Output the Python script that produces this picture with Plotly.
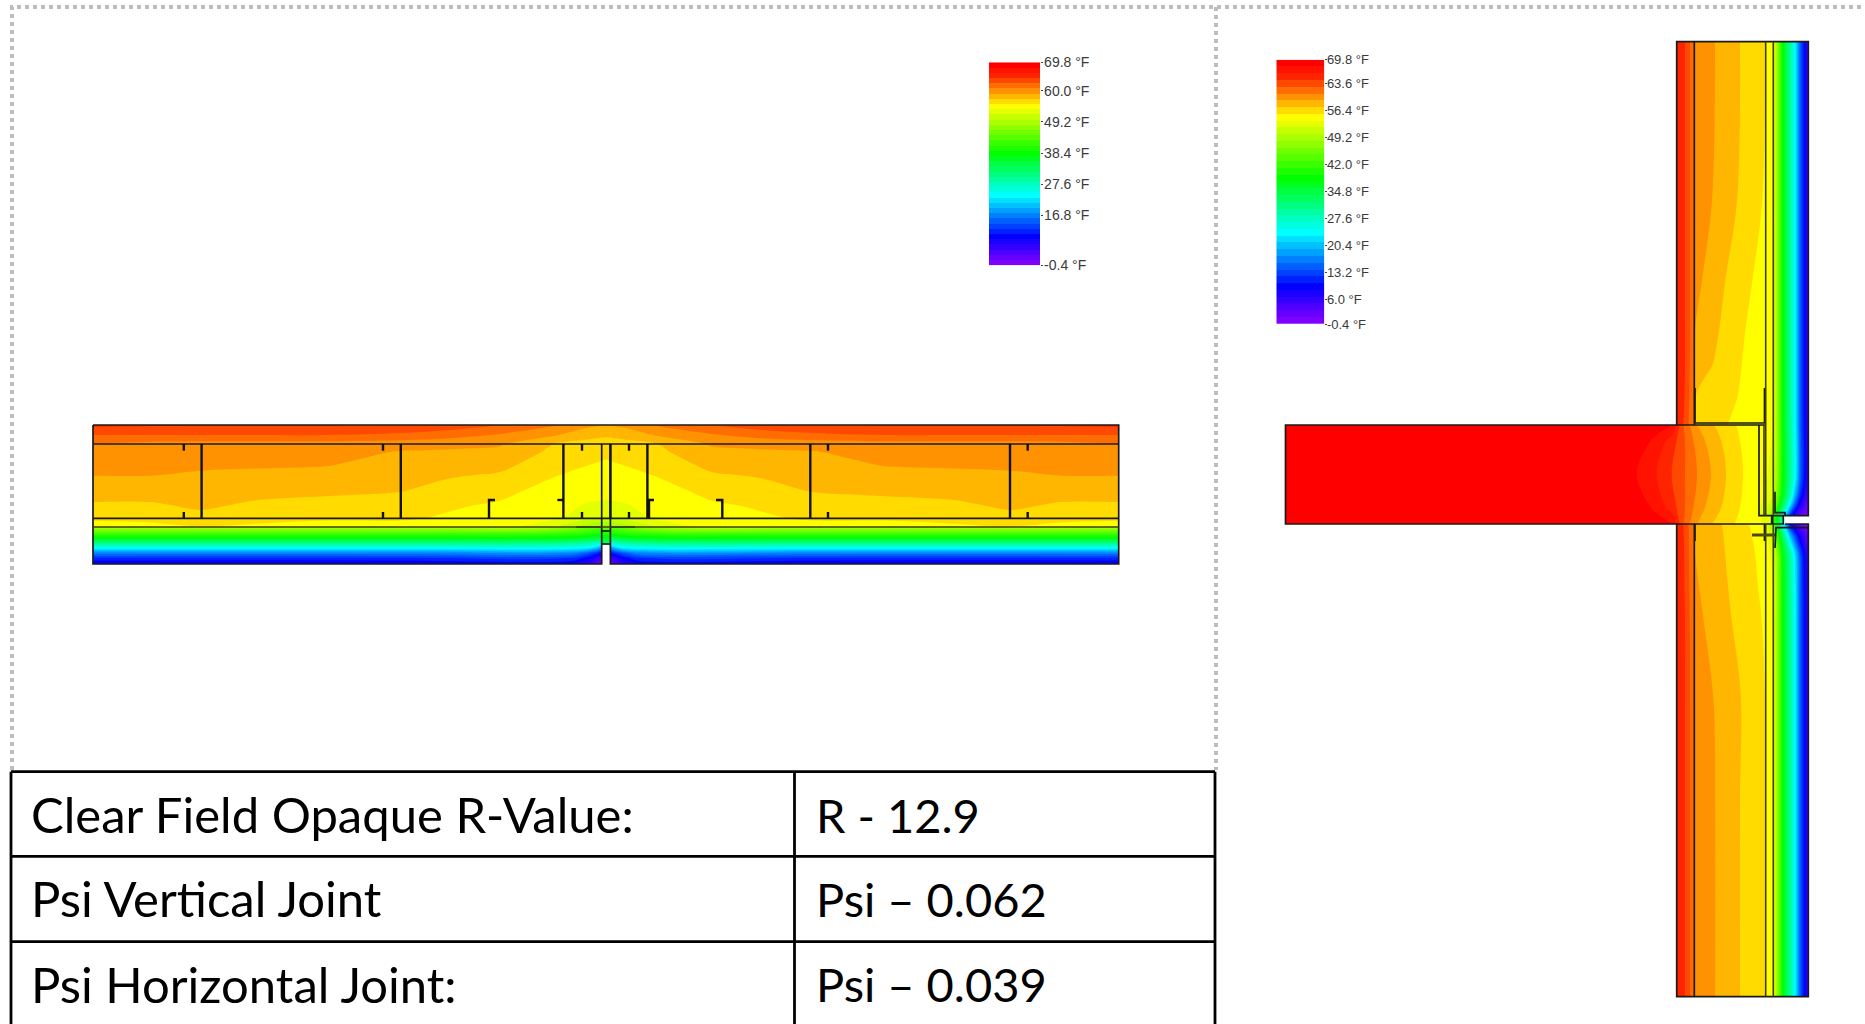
import plotly.graph_objects as go

W, H = 1865, 1024
T_MIN, T_MAX, T_STEP = -0.4, 69.8, 1.8

# Isotherm band colours, coldest to warmest
BAND_COLORS = ["#8000FF", "#6600FF", "#4D00FF", "#3300FF", "#1A00FF",
               "#0000FF", "#0020FF", "#0040FF", "#0060FF", "#0080FF", "#00A0FF", "#00C0FF", "#00E0FF",
               "#00FFFF", "#00FFE0", "#00FFC0", "#00FFA0", "#00FF80", "#00FF60", "#00FF40", "#00FF20",
               "#00FF00", "#1CFF00", "#39FF00", "#55FF00", "#71FF00", "#8EFF00", "#AAFF00", "#C6FF00", "#E3FF00",
               "#FFFF00", "#FFDB00", "#FFB600", "#FF9200", "#FF6D00", "#FF4900", "#FF2400", "#FF1200", "#FF0000"]

LEGEND_A_TICKS = [69.8, 60.0, 49.2, 38.4, 27.6, 16.8, -0.4]
LEGEND_B_TICKS = [69.8, 63.6, 56.4, 49.2, 42.0, 34.8, 27.6, 20.4, 13.2, 6.0, -0.4]

# ---------- horizontal section (left), temperature read at grid nodes ----------
H_TOP_X = [93, 150, 201, 258, 330, 400, 450, 500, 554, 585, 605]
H_TOP_Y = [425, 435, 444, 452, 462, 475, 490, 505, 518, 527]
H_TOP_Z = [
    [64.8, 64.6, 64.5, 64.5, 64.5, 64.2, 63.6, 62.6, 61.0, 59.5, 59.0],
    [62.6, 62.6, 62.6, 62.6, 62.6, 62.2, 61.6, 60.6, 59.2, 58.0, 57.6],
    [60.7, 60.2, 60.0, 60.0, 60.0, 59.8, 59.4, 59.2, 57.2, 56.5, 56.0],
    [60.1, 60.0, 59.8, 59.7, 59.6, 58.9, 58.8, 58.5, 56.8, 56.0, 55.7],
    [59.6, 59.6, 59.4, 59.3, 59.2, 58.4, 58.2, 57.9, 56.2, 55.6, 55.3],
    [59.05, 59.05, 58.8, 58.7, 58.5, 57.9, 57.4, 57.0, 55.5, 55.0, 54.8],
    [58.0, 58.0, 58.1, 57.8, 57.6, 57.35, 56.5, 55.9, 54.8, 54.5, 54.2],
    [57.0, 57.0, 57.5, 56.9, 56.6, 56.2, 55.6, 55.2, 54.4, 53.5, 53.3],
    [55.8, 56.0, 56.7, 55.9, 55.6, 55.6, 55.2, 54.8, 54.0, 52.5, 52.2],
    [54.5, 54.8, 55.3, 55.1, 54.9, 54.9, 54.8, 54.4, 52.0, 49.0, 47.0],
]
H_LOW_X = [93, 400, 540, 575, 590, 601.7]
H_LOW_Y = [527, 533, 538, 543, 548, 553, 558, 564]
H_LOW_Z = [
    [50.0, 50.0, 50.0, 47.0, 45.0, 44.0],
    [43.0, 43.0, 43.0, 42.0, 41.0, 40.0],
    [38.0, 38.0, 38.0, 37.5, 36.0, 34.0],
    [31.0, 31.0, 31.0, 30.0, 29.0, 26.0],
    [24.0, 24.0, 24.5, 24.0, 23.0, 18.0],
    [17.0, 17.0, 18.0, 17.0, 14.0, 10.0],
    [12.0, 12.0, 13.0, 12.0, 9.0, 5.0],
    [8.0, 8.0, 9.0, 8.0, 6.0, 1.0],
]
H_JOINT_X = [601.7, 610.4]
H_JOINT_Y = [527, 531, 537, 544]
H_JOINT_Z = [[46, 46], [42, 42], [38, 38], [31, 31]]
H_MIRROR = 1211.6

# ---------- vertical section (right) ----------
V_X = [1677, 1685, 1690, 1694, 1695, 1715, 1740, 1765, 1773, 1776, 1783, 1790, 1795, 1800, 1805, 1808.3]
V_TOP_Y = [42, 200, 280, 330, 363, 397, 425]
V_TOP_Z = [
    [66.4, 64.4, 62.6, 60.9, 60.8, 59.0, 57.2, 55.4, 53.6, 50, 38, 30, 24, 15, 9, 6],
    [66.4, 64.4, 62.6, 60.9, 60.7, 58.7, 57.0, 55.2, 53.6, 50, 38, 30, 24, 15, 9, 6],
    [66.4, 64.4, 62.6, 60.9, 59.6, 57.9, 56.2, 54.6, 53.6, 50, 38, 30, 24, 15, 9, 6],
    [66.4, 64.4, 62.6, 60.9, 59.0, 57.5, 55.7, 54.3, 53.6, 50, 38, 30, 24, 15, 9, 6],
    [66.4, 64.4, 62.5, 60.8, 58.2, 57.1, 55.5, 54.2, 53.6, 50, 38, 30, 24, 15, 9, 6],
    [66.2, 64.3, 62.3, 60.6, 57.2, 56.3, 55.3, 54.1, 53.6, 50, 38, 30, 24, 15, 9, 6],
    [65.8, 64.0, 62.0, 60.4, 56.5, 55.9, 54.9, 54.0, 53.6, 50, 38, 30, 24, 15, 9, 6],
]
V_BOT_Y = [524, 535, 553, 590, 620, 700, 800, 997]
V_BOT_Z = [
    [65.8, 64.0, 62.0, 60.4, 58.8, 57.7, 55.9, 54.5, 46, 40, 24, 10, 6, 3, 1, 0],
    [65.9, 64.1, 62.1, 60.4, 58.9, 57.75, 56.1, 54.6, 50, 44, 32, 20, 13, 8, 4, 3],
    [66.0, 64.2, 62.2, 60.5, 59.0, 57.8, 56.3, 54.8, 53, 49, 37, 29, 22, 14, 8, 5.5],
    [66.2, 64.3, 62.4, 60.6, 59.3, 58.0, 56.5, 55.0, 53.6, 50, 38, 30, 24, 15, 9, 6],
    [66.3, 64.4, 62.5, 60.7, 59.6, 58.2, 56.7, 55.2, 53.6, 50, 38, 30, 24, 15, 9, 6],
    [66.4, 64.4, 62.6, 60.9, 60.2, 58.9, 57.3, 55.4, 53.6, 50, 38, 30, 24, 15, 9, 6],
    [66.4, 64.4, 62.6, 60.9, 60.4, 59.0, 57.2, 55.4, 53.6, 50, 38, 30, 24, 15, 9, 6],
    [66.4, 64.4, 62.6, 60.9, 60.6, 59.0, 57.2, 55.4, 53.6, 50, 38, 30, 24, 15, 9, 6],
]
V_OUT_X = [1759, 1765, 1773, 1776, 1783, 1790, 1795, 1800, 1805, 1808.3]
V_OUT_Y = [425, 480, 495, 505, 516]
V_OUT_Z = [
    [54.0, 54.0, 53.6, 50, 38, 30, 24, 15, 9, 6],
    [54.0, 53.8, 53.0, 49, 38, 30, 24, 15, 9, 6],
    [54.0, 53.6, 52.0, 47, 37, 28, 20, 12, 7, 4.5],
    [53.8, 53.0, 50.0, 44, 33, 23, 14, 8, 4, 2.5],
    [53.5, 52.0, 46.0, 38, 25, 12, 6, 3, 1, 0],
]
V_SLAB_X = [1285.5, 1636.7, 1656.7, 1671.7, 1685, 1697, 1711, 1726, 1743, 1759]
V_SLAB_Y = [425, 440, 474, 508, 524]
V_SLAB_Z = [
    [69.8, 69.5, 69.0, 68.1, 62.0, 59.0, 57.5, 56.0, 55.0, 54.0],
    [69.8, 69.3, 67.5, 65.5, 62.6, 60.0, 58.2, 56.7, 55.1, 54.0],
    [69.8, 68.0, 66.2, 64.4, 62.6, 60.8, 59.0, 57.2, 55.4, 54.0],
    [69.8, 69.3, 67.5, 65.5, 62.6, 60.0, 58.2, 56.7, 55.1, 54.0],
    [69.8, 69.5, 69.0, 68.1, 62.0, 59.0, 57.3, 55.8, 55.0, 54.0],
]
V_JOINT_X = [1759, 1771, 1773, 1778, 1783.3]
V_JOINT_Y = [516, 524]
V_JOINT_Z = [[54, 52, 42, 38, 28], [54, 52, 42, 36, 26]]

# ---------- section outlines ----------
H_LINES = [
    [(93, 425), (1118.7, 425), (1118.7, 564), (610.4, 564), (610.4, 444)],
    [(601.7, 444), (601.7, 564), (93, 564), (93, 425)],
    [(93, 444), (1118.7, 444)], [(93, 518.3), (1118.7, 518.3)],
    [(601.7, 531), (610.4, 531)], [(601.7, 544), (610.4, 544)],
]
H_STUD_LINES = [
    [(183.8, 450.7), (183.8, 444)], [(183.8, 512), (183.8, 518)], [(201.6, 444), (201.6, 518)],
    [(383, 450.7), (383, 444)], [(383, 512), (383, 518)], [(400.8, 444), (400.8, 518)],
    [(563.4, 444), (563.4, 518)], [(582, 444), (582, 450.7)], [(582, 512), (582, 518)],
    [(610.4, 444), (610.4, 518)], [(647.4, 444), (647.4, 518)], [(629, 444), (629, 450.7)], [(629, 512), (629, 518)],
    [(495, 500), (489, 500), (489, 518)], [(557.4, 500), (563.4, 500)],
    [(654, 500), (649, 500), (649, 518)], [(716, 500), (722.3, 500), (722.3, 518)],
    [(810.3, 444), (810.3, 518)], [(828, 444), (828, 450.7)], [(828, 512), (828, 518)],
    [(1010, 444), (1010, 518)], [(1027.7, 444), (1027.7, 450.7)], [(1027.7, 512), (1027.7, 518)],
]
H_SOFT_LINES = [[(93, 527), (1118.7, 527)], [(576, 527), (601.7, 527)], [(610.4, 527), (635, 527)]]
V_LINES = [
    [(1676.7, 425), (1676.7, 41.7), (1808.3, 41.7), (1808.3, 515.7), (1785, 515.7), (1785, 512.7), (1775, 512.7), (1775, 491.7)],
    [(1775, 548), (1776, 527.7), (1808.3, 527.7)],
    [(1785, 524), (1808.3, 524), (1808.3, 996.6), (1676.7, 996.6), (1676.7, 524)],
    [(1676.7, 425), (1285.5, 425), (1285.5, 524), (1783.3, 524), (1783.3, 515.7), (1772.7, 515.7), (1772.7, 524)],
    [(1771.7, 524), (1771.7, 515.7), (1759, 515.7), (1759, 425)],
    [(1676.7, 425), (1765.7, 425)], [(1695, 423), (1765.7, 423)],
    [(1694.3, 41.7), (1694.3, 425)], [(1694.3, 524), (1694.3, 996.6)],
    [(1695, 388), (1695, 423)], [(1695, 524), (1695, 541)],
    [(1764.5, 388), (1764.5, 423)], [(1764.5, 524), (1764.5, 541)],
]
V_SOFT_LINES = [
    [(1765.7, 41.7), (1765.7, 515.7)], [(1765.7, 524), (1765.7, 996.6)],
    [(1773.3, 41.7), (1773.3, 515.7)], [(1773.3, 524), (1773.3, 996.6)],
    [(1764, 425), (1764, 515.7)],
]
V_THICK_LINES = [[(1752, 535), (1775, 535)]]

FRAME_DOTS = [[(12, 770), (12, 7), (1865, 7)], [(1216, 7), (1216, 770)]]
TABLE_LINES = [
    [(11, 771.7), (1215, 771.7)], [(11, 856.3), (1215, 856.3)], [(11, 941.7), (1215, 941.7)],
    [(11, 771.7), (11, 1024)], [(794.5, 771.7), (794.5, 1024)], [(1215, 771.7), (1215, 1024)],
]
TABLE_LABELS = ["Clear Field Opaque R-Value:", "Psi Vertical Joint", "Psi Horizontal Joint:"]
TABLE_VALUES = ["R - 12.9", "Psi – 0.062", "Psi – 0.039"]
TABLE_ROW_Y = [821, 905, 990.5]
TABLE_LABEL_X = 31
TABLE_VALUE_X = 816


def flat(polys):
    xs, ys = [], []
    for poly in polys:
        for px, py in poly:
            xs.append(px)
            ys.append(py)
        xs.append(None)
        ys.append(None)
    return xs, ys


n = len(BAND_COLORS)
stepped = []
for i, c in enumerate(BAND_COLORS):
    stepped.append([i / n, c])
    stepped.append([(i + 1) / n, c])


def field(x, y, z):
    return go.Contour(
        x=x, y=y, z=z, autocontour=False, zmin=T_MIN, zmax=T_MAX,
        colorscale=stepped, showscale=False, hoverinfo="skip",
        contours=dict(coloring="fill", showlines=False, start=T_MIN, end=T_MAX + 0.1, size=T_STEP),
        line=dict(width=0),
    )


def lines(polys, color, width, dash=None):
    xs, ys = flat(polys)
    return go.Scatter(x=xs, y=ys, mode="lines", hoverinfo="skip", showlegend=False,
                      line=dict(color=color, width=width, dash=dash))


fig = go.Figure()

# horizontal section, read on the left half and reflected about the joint
mirror_top_x = [H_MIRROR - v for v in reversed(H_TOP_X)]
fig.add_trace(field(H_TOP_X + mirror_top_x, H_TOP_Y, [r + r[::-1] for r in H_TOP_Z]))
fig.add_trace(field(H_LOW_X, H_LOW_Y, H_LOW_Z))
fig.add_trace(field([H_MIRROR - v for v in reversed(H_LOW_X)], H_LOW_Y, [r[::-1] for r in H_LOW_Z]))
fig.add_trace(field(H_JOINT_X, H_JOINT_Y, H_JOINT_Z))

# vertical section
fig.add_trace(field(V_X, V_TOP_Y, V_TOP_Z))
fig.add_trace(field(V_X, V_BOT_Y, V_BOT_Z))
fig.add_trace(field(V_OUT_X, V_OUT_Y, V_OUT_Z))
fig.add_trace(field(V_SLAB_X, V_SLAB_Y, V_SLAB_Z))
fig.add_trace(field(V_JOINT_X, V_JOINT_Y, V_JOINT_Z))

fig.add_trace(lines(H_LINES, "#1a1a1a", 1.7))
fig.add_trace(lines(H_STUD_LINES, "#111111", 2.4))
fig.add_trace(lines(H_SOFT_LINES, "#3d3d10", 1.5))
fig.add_trace(lines(V_LINES, "#1a1a1a", 1.7))
fig.add_trace(lines(V_SOFT_LINES, "#3d3d10", 1.6))
fig.add_trace(lines(V_THICK_LINES, "#4a4a10", 3))
fig.add_trace(lines(FRAME_DOTS, "#bdbdbd", 4, "4px,4px"))
fig.add_trace(lines(TABLE_LINES, "#000000", 2.8))

label_font = dict(family="Lato, Carlito, sans-serif", size=49, color="#000000")
value_font = dict(family="Lato, Carlito, sans-serif", size=47, color="#000000")
fig.add_trace(go.Scatter(x=[TABLE_LABEL_X] * 3, y=TABLE_ROW_Y, text=TABLE_LABELS, mode="text",
                         textposition="middle right", textfont=label_font, hoverinfo="skip", showlegend=False))
fig.add_trace(go.Scatter(x=[TABLE_VALUE_X] * 3, y=TABLE_ROW_Y, text=TABLE_VALUES, mode="text",
                         textposition="middle right", textfont=value_font, hoverinfo="skip", showlegend=False))

# legend bars on their own temperature axes
edges = [T_MIN + i * T_STEP for i in range(n + 1)]
centres = [[T_MIN + (i + 0.5) * T_STEP] for i in range(n)]
for xa, ya in (("x2", "y2"), ("x3", "y3")):
    fig.add_trace(go.Heatmap(x=[0, 1], y=edges, z=centres, zmin=T_MIN, zmax=T_MAX, colorscale=stepped,
                             showscale=False, hoverinfo="skip", xaxis=xa, yaxis=ya))


def tick_text(values):
    return [f"{v:.1f} °F" for v in values]


hidden = dict(visible=False, fixedrange=True, automargin=False)
fig.update_layout(
    template="none",
    width=W, height=H, autosize=False, showlegend=False,
    margin=dict(l=0, r=0, t=0, b=0, pad=0),
    paper_bgcolor="white", plot_bgcolor="white",
    xaxis=dict(range=[0, W], domain=[0, 1], **hidden),
    yaxis=dict(range=[H, 0], domain=[0, 1], **hidden),
    xaxis2=dict(range=[0, 1], domain=[989 / W, 1040.3 / W], anchor="y2", **hidden),
    yaxis2=dict(range=[T_MIN, T_MAX], domain=[1 - 265.3 / H, 1 - 62.3 / H], anchor="x2", side="right",
                automargin=False,
                tickvals=LEGEND_A_TICKS, ticktext=tick_text(LEGEND_A_TICKS), ticks="outside", ticklen=2,
                ticklabelstandoff=-2,
                tickcolor="#444", showgrid=False, zeroline=False, showline=False,
                tickfont=dict(family="Liberation Sans", size=14, color="#3a3a3a")),
    xaxis3=dict(range=[0, 1], domain=[1276.3 / W, 1324.3 / W], anchor="y3", **hidden),
    yaxis3=dict(range=[T_MIN, T_MAX], domain=[1 - 324 / H, 1 - 59.7 / H], anchor="x3", side="right",
                automargin=False,
                tickvals=LEGEND_B_TICKS, ticktext=tick_text(LEGEND_B_TICKS), ticks="outside", ticklen=2,
                ticklabelstandoff=-3,
                tickcolor="#444", showgrid=False, zeroline=False, showline=False,
                tickfont=dict(family="Liberation Sans", size=13, color="#3a3a3a")),
)

fig.write_html("out.html", config={"displayModeBar": False},
               post_script="document.body.style.margin='0';document.body.style.overflow='hidden';")
